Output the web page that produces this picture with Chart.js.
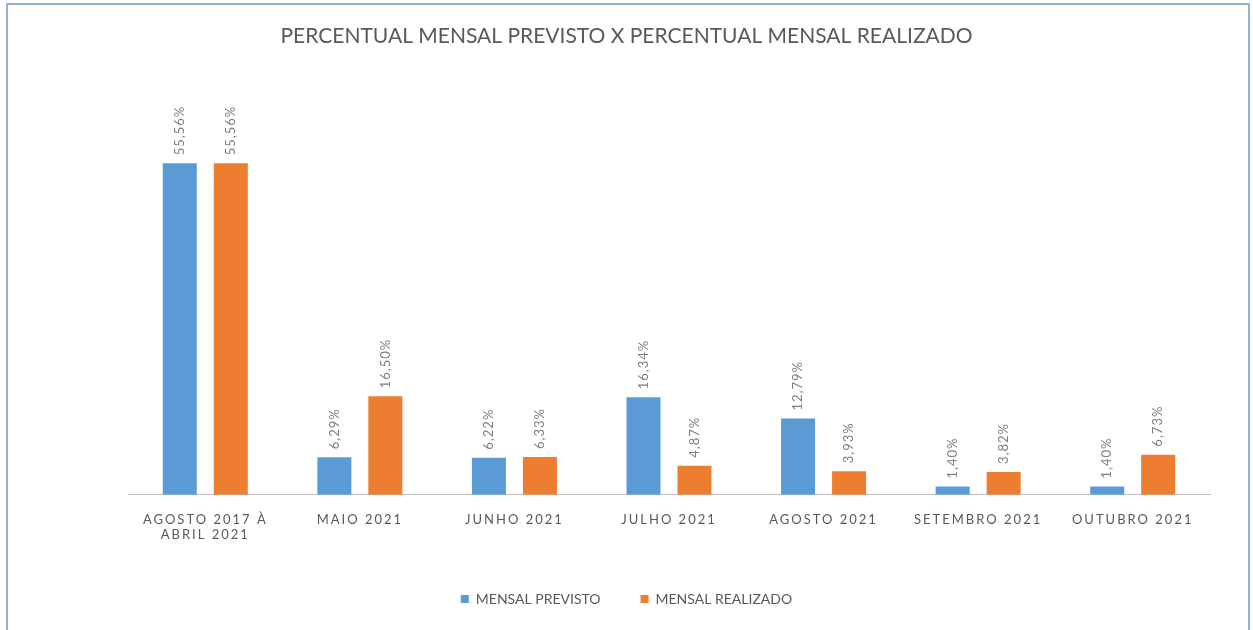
<!DOCTYPE html>
<html>
<head>
<meta charset="utf-8">
<script src="https://cdn.jsdelivr.net/npm/chart.js@4.4.1/dist/chart.umd.min.js"></script>
<style>
  body { margin: 0; background: #fff; }
  #wrap { position: relative; width: 1253px; height: 630px; overflow: hidden; }
  #frame {
    position: absolute; left: 6px; top: 3px; width: 1240px; height: 660px;
    border: 2px solid #8fb4d6; pointer-events: none;
  }
  canvas { position: absolute; left: 0; top: 0; }
</style>
</head>
<body>
<div id="wrap">
  <canvas id="chart" width="1253" height="630"></canvas>
  <div id="frame"></div>
</div>
<script>
const categories = [
  ["AGOSTO 2017 À", "ABRIL 2021"],
  "MAIO 2021",
  "JUNHO 2021",
  "JULHO 2021",
  "AGOSTO 2021",
  "SETEMBRO 2021",
  "OUTUBRO 2021",
];
const previsto = [55.56, 6.29, 6.22, 16.34, 12.79, 1.40, 1.40];
const realizado = [55.56, 16.50, 6.33, 4.87, 3.93, 3.82, 6.73];

const FONT = "Lato, 'Open Sans', sans-serif";
const GREY = "#595959";

function pct(v) {
  return v.toFixed(2).replace(".", ",") + "%";
}

// rotated value labels above each bar
const barLabels = {
  id: "barLabels",
  afterDatasetsDraw(chart) {
    const ctx = chart.ctx;
    chart.data.datasets.forEach((ds, i) => {
      chart.getDatasetMeta(i).data.forEach((bar, j) => {
        ctx.save();
        ctx.translate(bar.x, bar.y - 8);
        ctx.rotate(-Math.PI / 2);
        ctx.font = "13px " + FONT;
        ctx.letterSpacing = "1px";
        ctx.fillStyle = "#7f7f7f";
        ctx.textAlign = "left";
        ctx.textBaseline = "middle";
        ctx.fillText(pct(ds.data[j]), 0, 0);
        ctx.restore();
      });
    });
  },
};

// spaced-out category labels like the original
const spacedTicks = {
  id: "spacedTicks",
  beforeDraw(chart) {
    const sc = chart.scales.x;
    if (sc._spaced) return;
    const orig = sc.drawLabels;
    sc.drawLabels = function (area) {
      this.ctx.save();
      this.ctx.letterSpacing = "2px";
      orig.call(this, area);
      this.ctx.restore();
    };
    sc._spaced = true;
  },
};

// invisible side axes just to reserve the margins
function sideAxis(pos, w) {
  return {
    position: pos,
    display: true,
    min: 0,
    max: 70,
    grid: { display: false },
    border: { display: false },
    ticks: { display: false },
    afterFit(s) { s.width = w; },
  };
}

new Chart(document.getElementById("chart"), {
  type: "bar",
  data: {
    labels: categories,
    datasets: [
      { label: "MENSAL PREVISTO", data: previsto, backgroundColor: "#5b9bd5" },
      { label: "MENSAL REALIZADO", data: realizado, backgroundColor: "#ed7d31" },
    ],
  },
  options: {
    responsive: false,
    animation: false,
    categoryPercentage: 0.66,
    barPercentage: 0.667,
    layout: { padding: { left: 0, right: 0, top: 0, bottom: 14 } },
    scales: {
      x: {
        grid: { display: false },
        border: { color: "#bfbfbf", width: 1 },
        ticks: {
          color: GREY,
          font: { family: FONT, size: 13 },
          padding: 9,
          maxRotation: 0,
        },
      },
      y: sideAxis("left", 128),
      yr: sideAxis("right", 43),
    },
    plugins: {
      title: {
        display: true,
        text: "PERCENTUAL MENSAL PREVISTO X PERCENTUAL MENSAL REALIZADO",
        color: GREY,
        font: { family: FONT, size: 21, weight: "normal" },
        padding: { top: 24, bottom: 28 },
      },
      legend: {
        position: "bottom",
        labels: {
          color: GREY,
          font: { family: FONT, size: 14 },
          boxWidth: 8,
          boxHeight: 8,
          padding: 40,
        },
      },
      tooltip: { enabled: false },
    },
  },
  plugins: [barLabels, spacedTicks],
});
</script>
</body>
</html>
